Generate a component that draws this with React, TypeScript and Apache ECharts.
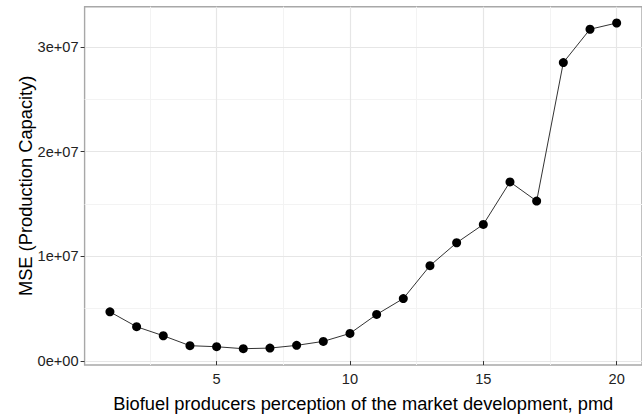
import React, { useEffect, useRef } from "react";
import * as echarts from "echarts";

const pmd = [1, 2, 3, 4, 5, 6, 7, 8, 9, 10, 11, 12, 13, 14, 15, 16, 17, 18, 19, 20];
const mse = [
  4.70e6, 3.28e6, 2.42e6, 1.47e6, 1.37e6, 1.18e6, 1.24e6, 1.50e6, 1.88e6, 2.64e6,
  4.45e6, 5.97e6, 9.11e6, 1.13e7, 1.305e7, 1.711e7, 1.528e7, 2.851e7, 3.169e7, 3.229e7,
];
const xTicks = [5, 10, 15, 20];
const xMinor = [2.5, 7.5, 12.5, 17.5];
const yTicks = [0, 1e7, 2e7, 3e7];
const yMinor = [5e6, 1.5e7, 2.5e7];
const xTitle = "Biofuel producers perception of the market development, pmd";
const yTitle = "MSE (Production Capacity)";

const FONT = "'Liberation Sans', Arial, sans-serif";

function expand(vals: number[]) {
  const lo = Math.min(...vals);
  const hi = Math.max(...vals);
  const pad = (hi - lo) * 0.05;
  return [lo - pad, hi + pad];
}

function sci(v: number) {
  if (v === 0) return "0e+00";
  const e = Math.floor(Math.log10(Math.abs(v)) + 1e-9);
  const m = Math.round(v / Math.pow(10, e));
  return `${m}e+${String(e).padStart(2, "0")}`;
}

export default function App() {
  const ref = useRef<HTMLDivElement>(null);
  useEffect(() => {
    if (!ref.current) return;
    const chart = echarts.init(ref.current, null, { renderer: "svg" });
    const [xmin, xmax] = expand(pmd);
    const [ymin, ymax] = expand(mse);
    const gridLines = [
      ...xMinor.map((v) => ({ xAxis: v, lineStyle: { color: "#f3f3f3", width: 1, type: "solid" } })),
      ...yMinor.map((v) => ({ yAxis: v, lineStyle: { color: "#f3f3f3", width: 1, type: "solid" } })),
      ...xTicks.map((v) => ({ xAxis: v, lineStyle: { color: "#e6e6e6", width: 1.2, type: "solid" } })),
      ...yTicks.map((v) => ({ yAxis: v, lineStyle: { color: "#e6e6e6", width: 1.2, type: "solid" } })),
    ];
    chart.setOption({
      animation: false,
      backgroundColor: "#ffffff",
      grid: {
        left: 84.6,
        right: -2.1,
        top: 6.7,
        bottom: 50.3,
        show: true,
        borderColor: "#a8a8a8",
        borderWidth: 1.4,
        backgroundColor: "transparent",
      },
      xAxis: {
        type: "value",
        min: xmin,
        max: xmax,
        name: xTitle,
        nameLocation: "middle",
        nameGap: 29,
        nameTextStyle: { fontFamily: FONT, fontSize: 18.3, color: "#000" },
        axisLine: { show: false },
        splitLine: { show: false },
        axisTick: { show: true, length: 4, customValues: xTicks, lineStyle: { color: "#333", width: 1 } },
        axisLabel: {
          customValues: xTicks,
          margin: 6,
          fontFamily: FONT,
          fontSize: 14.6,
          color: "#222",
          formatter: (v: number) => String(v),
        },
      },
      yAxis: {
        type: "value",
        min: ymin,
        max: ymax,
        name: yTitle,
        nameLocation: "middle",
        nameGap: 50,
        nameMoveOverlap: false,
        nameTextStyle: { fontFamily: FONT, fontSize: 18.3, color: "#000" },
        axisLine: { show: false },
        splitLine: { show: false },
        axisTick: { show: true, length: 4, customValues: yTicks, lineStyle: { color: "#333", width: 1 } },
        axisLabel: {
          customValues: yTicks,
          margin: 6,
          fontFamily: FONT,
          fontSize: 14.6,
          color: "#222",
          formatter: (v: number) => sci(v),
        },
      },
      series: [
        {
          type: "line",
          data: [],
          z: 0,
          silent: true,
          markLine: {
            z: 0,
            silent: true,
            symbol: ["none", "none"],
            label: { show: false },
            animation: false,
            data: gridLines,
          },
        },
        {
          type: "line",
          z: 5,
          data: pmd.map((x, i) => [x, mse[i]]),
          symbol: "circle",
          symbolSize: 9,
          showSymbol: true,
          itemStyle: { color: "#000" },
          lineStyle: { color: "#333", width: 1 },
        },
      ],
    });
    return () => chart.dispose();
  }, []);
  return (
    <div
      ref={ref}
      style={{ position: "absolute", left: 0, top: 0, width: 642, height: 417 }}
    />
  );
}
